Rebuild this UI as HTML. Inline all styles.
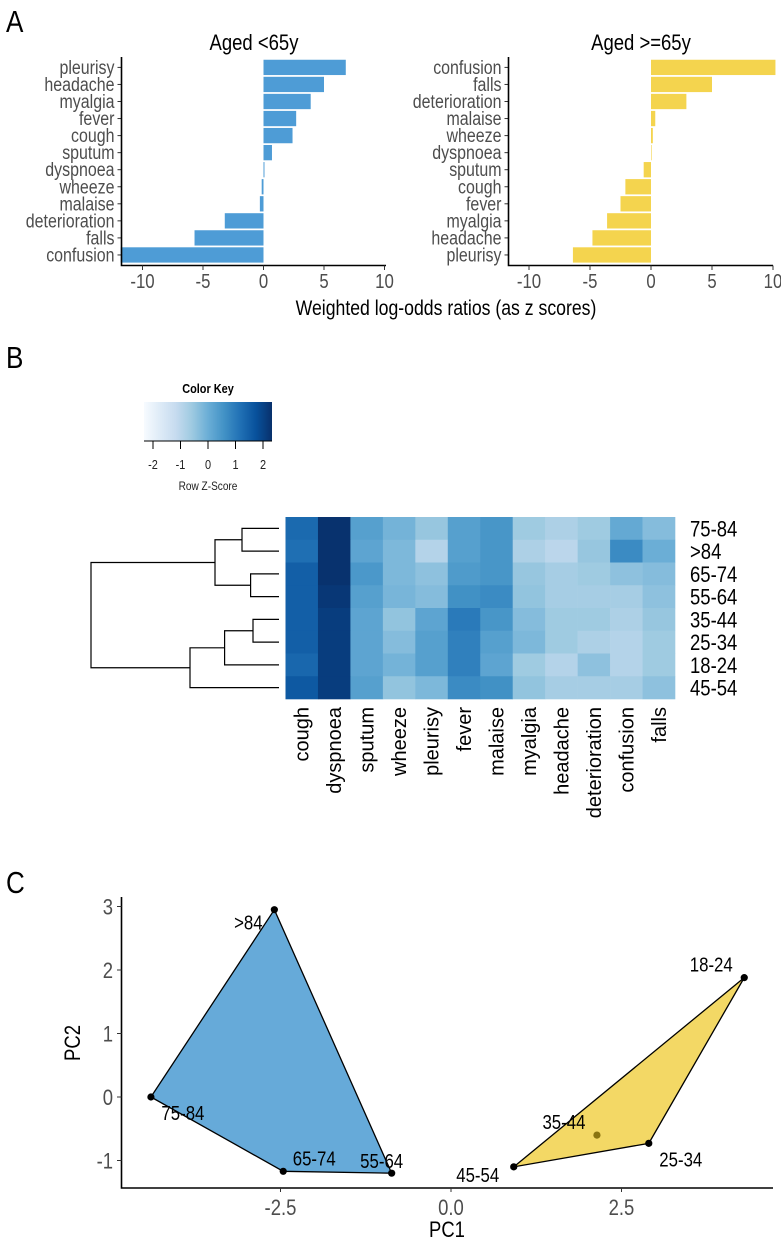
<!DOCTYPE html>
<html><head><meta charset="utf-8"><style>
html,body{margin:0;padding:0;background:#fff;}
svg{display:block;}
.n{font-family:"Liberation Sans Narrow","Liberation Sans",sans-serif;}
.r{font-family:"Liberation Sans",sans-serif;}
</style></head><body>
<svg id="fig" width="781" height="1240" viewBox="0 0 781 1240" xmlns="http://www.w3.org/2000/svg">
<text class="n" x="6" y="32" font-size="31">A</text>
<text class="n" x="6" y="368" font-size="31">B</text>
<text class="n" x="6" y="893" font-size="31">C</text>
<text class="n" x="254" y="50" font-size="22" text-anchor="middle">Aged &lt;65y</text>
<text class="n" x="641" y="50" font-size="22" text-anchor="middle">Aged &gt;=65y</text>
<text class="n" x="446" y="315" font-size="21" text-anchor="middle">Weighted log-odds ratios (as z scores)</text>
<g id="pa"></g><g id="pb"></g><g id="pc"></g>
</svg>
<script>
// ---------- Panel A data ----------
const leftCats = ["pleurisy","headache","myalgia","fever","cough","sputum","dyspnoea","wheeze","malaise","deterioration","falls","confusion"];
const leftVals = [6.8,5.0,3.9,2.7,2.4,0.7,0.08,-0.15,-0.3,-3.2,-5.7,-11.8];
const rightCats = ["confusion","falls","deterioration","malaise","wheeze","dyspnoea","sputum","cough","fever","myalgia","headache","pleurisy"];
const rightVals = [10.2,5.0,2.9,0.35,0.15,0.05,-0.6,-2.1,-2.5,-3.6,-4.8,-6.4];
const aTicks = [-10,-5,0,5,10];
// ---------- Panel B data ----------
const hmRows = ["75-84",">84","65-74","55-64","35-44","25-34","18-24","45-54"];
const hmCols = ["cough","dyspnoea","sputum","wheeze","pleurisy","fever","malaise","myalgia","headache","deterioration","confusion","falls"];
const hm7584 = [1.3,2.3,0.3,-0.1,-0.5,0.3,0.5,-0.6,-0.8,-0.6,0.1,-0.3];
const hm84 = [1.2,2.3,0.2,-0.2,-0.9,0.3,0.5,-0.8,-1.0,-0.5,0.7,0.0];
const hm6574 = [1.5,2.3,0.45,-0.2,-0.4,0.4,0.5,-0.5,-0.7,-0.6,-0.4,-0.3];
const hm5564 = [1.5,2.2,0.3,-0.15,-0.3,0.6,0.7,-0.45,-0.7,-0.7,-0.7,-0.4];
const hm3544 = [1.5,2.1,0.2,-0.45,0.2,1.0,0.5,-0.3,-0.6,-0.6,-0.8,-0.5];
const hm2534 = [1.5,2.1,0.2,-0.3,0.3,0.9,0.3,-0.2,-0.6,-0.8,-0.9,-0.6];
const hm1824 = [1.35,2.1,0.2,-0.1,0.3,0.9,0.2,-0.6,-0.9,-0.4,-0.9,-0.6];
const hm4554 = [1.6,2.1,0.3,-0.45,-0.2,0.7,0.6,-0.45,-0.7,-0.7,-0.7,-0.4];
const keyTicks = [-2,-1,0,1,2];
// ---------- Panel C data ----------
const pcLabels = [">84","75-84","65-74","55-64","18-24","35-44","25-34","45-54"];
const pcGroup = [0,0,0,0,1,1,1,1];
const pc1 = [-2.59,-4.4,-2.46,-0.87,4.3,2.14,2.9,0.92];
const pc2 = [2.95,0.0,-1.17,-1.2,1.88,-0.6,-0.73,-1.1];
const pc1Ticks = [-2.5,0.0,2.5];
const pc2Ticks = [-1,0,1,2,3];

const NS="http://www.w3.org/2000/svg";
function mk(tag,attrs,parent,txt){const e=document.createElementNS(NS,tag);for(const k in attrs)e.setAttribute(k,attrs[k]);if(txt!==undefined)e.textContent=txt;parent.appendChild(e);return e;}

// ---------- Panel A ----------
const pa=document.getElementById('pa');
function barPanel(cats,vals,axX,zeroX,ppu,endX,color,side){
  const y0=67.4,pitch=17.05,bh=15.3;
  const xs=v=>zeroX+v*ppu;
  cats.forEach((c,i)=>{
    const yc=y0+i*pitch,v=vals[i];
    const x1=Math.min(xs(0),xs(v)),w=Math.max(Math.abs(xs(v)-xs(0)),0.6);
    const r=mk('rect',{x:x1,y:yc-bh/2,width:w,height:bh,fill:color},pa);
    
    
    const t=mk('text',{x:axX-7,y:yc+6.5,'font-size':19,'text-anchor':'end',fill:'#4d4d4d',class:'n'},pa,c);
    
    
    mk('line',{x1:axX-4,x2:axX,y1:yc,y2:yc,stroke:'#333','stroke-width':1},pa);
  });
  const ax=mk('path',{d:`M${axX},57V265.5H${endX}`,fill:'none',stroke:'#000','stroke-width':1.6},pa);
  
  
  aTicks.forEach(t=>{
    mk('line',{x1:xs(t),x2:xs(t),y1:265.5,y2:270,stroke:'#333'},pa);
    const tl=mk('text',{x:xs(t),y:288,'font-size':20,'text-anchor':'middle',fill:'#4d4d4d',class:'n'},pa,String(t));
    
    
  });
}
barPanel(leftCats,leftVals,121.5,263.5,12.1,386,'#4e9cd6','left');
barPanel(rightCats,rightVals,508.5,651,12.2,773,'#f4d44e','right');

// ---------- Panel B ----------
const pb=document.getElementById('pb');
const blues=["#f7fbff","#deebf7","#c6dbef","#9ecae1","#6baed6","#4292c6","#2171b5","#08519c","#08306b"];
function hx(h){return [1,3,5].map(i=>parseInt(h.substr(i,2),16));}
function cmap(v){let t=(v+2.33)/4.66;t=Math.max(0,Math.min(1,t))*(blues.length-1);const i=Math.min(Math.floor(t),blues.length-2),f=t-i;const a=hx(blues[i]),b=hx(blues[i+1]);return 'rgb('+a.map((x,k)=>Math.round(x+(b[k]-x)*f)).join(',')+')';}
const gk=mk('g',{},pb);
const defs=mk('defs',{},gk);const lg=mk('linearGradient',{id:'kg',x1:0,x2:1,y1:0,y2:0},defs);
blues.forEach((c,i)=>mk('stop',{offset:i/(blues.length-1),'stop-color':c},lg));
mk('rect',{x:144,y:402,width:128,height:39,fill:'url(#kg)'},gk);
mk('line',{x1:144,x2:272,y1:441,y2:441,stroke:'#000'},gk);
mk('text',{x:208,y:393,'font-size':13,'font-weight':'bold','text-anchor':'middle',class:'n'},gk,'Color Key');
const kx=v=>208+v*27.5;
keyTicks.forEach(t=>{mk('line',{x1:kx(t),x2:kx(t),y1:441,y2:449,stroke:'#000'},gk);
  mk('text',{x:kx(t),y:469,'font-size':13,'text-anchor':'middle',fill:'#222',class:'n'},gk,String(t));});
mk('text',{x:208,y:490,'font-size':12,'text-anchor':'middle',fill:'#222',class:'n'},gk,'Row Z-Score');
const hmData=[hm7584,hm84,hm6574,hm5564,hm3544,hm2534,hm1824,hm4554];
const hX0=285.5,hY0=517,cw=(675-285.5)/hmCols.length,ch=(699-517)/hmRows.length;
hmRows.forEach((r,i)=>{
  hmCols.forEach((c,j)=>{
    const cell=mk('rect',{x:hX0+j*cw,y:hY0+i*ch,width:cw+0.3,height:ch+0.3,fill:cmap(hmData[i][j])},pb);
    
    
  });
  const t=mk('text',{x:690,y:hY0+(i+0.5)*ch+8,'font-size':22,class:'n'},pb,r);
  
  
});
hmCols.forEach((c,j)=>{
  const cx=hX0+(j+0.5)*cw+7;
  const t=mk('text',{x:0,y:0,'font-size':20,'text-anchor':'end',class:'r',transform:`translate(${cx},707) rotate(-90)`},pb,c);
  
  
});
const ry=i=>hY0+(i+0.5)*ch;
const dg=mk('g',{fill:'none',stroke:'#000','stroke-width':1.2},pb);

function node(x,ya,yb,xa,xb){mk('path',{d:`M${xa},${ya}H${x}V${yb}H${xb}`},dg);return (ya+yb)/2;}
const n1=node(242,ry(0),ry(1),279,279);
const n2=node(250.6,ry(2),ry(3),279,279);
const n3=node(215,n1,n2,242,250.6);
const n4=node(253,ry(4),ry(5),279,279);
const n5=node(224.6,n4,ry(6),253,279);
const n6=node(190,n5,ry(7),224.6,279);
node(91,n3,n6,215,190);

// ---------- Panel C ----------
const pc=document.getElementById('pc');
const X=v=>451+v*68.2, Y=v=>1097-v*63.5;
const offs=[[-26,13],[32,16],[31,-13],[-10,-12],[-33,-13],[-33,-13],[32,16],[-36,8]];
function hull(idx){const p=idx.map(i=>[X(pc1[i]),Y(pc2[i]),i]).sort((a,b)=>a[0]-b[0]||a[1]-b[1]);
  const cr=(o,a,b)=>(a[0]-o[0])*(b[1]-o[1])-(a[1]-o[1])*(b[0]-o[0]);
  const lo=[],up=[];for(const q of p){while(lo.length>=2&&cr(lo[lo.length-2],lo[lo.length-1],q)<=0)lo.pop();lo.push(q);}
  for(const q of p.slice().reverse()){while(up.length>=2&&cr(up[up.length-2],up[up.length-1],q)<=0)up.pop();up.push(q);}
  return lo.slice(0,-1).concat(up.slice(0,-1));}
const fills=['#66aad9','#f3d865'];
const inner=['#2c5e80','#8a7410'];
[0,1].forEach(g=>{
  const idx=pcGroup.map((v,i)=>v===g?i:-1).filter(i=>i>=0);
  const h=hull(idx);
  const pg=mk('polygon',{points:h.map(p=>p[0]+','+p[1]).join(' '),fill:fills[g],stroke:'#000','stroke-width':1.3},pc);
  
  
  const hs=new Set(h.map(p=>p[2]));
  idx.forEach(i=>{const c=mk('circle',{cx:X(pc1[i]),cy:Y(pc2[i]),r:3.6,fill:hs.has(i)?'#000':inner[g]},pc);
    
    });
});
pcLabels.forEach((l,i)=>{
  const t=mk('text',{x:X(pc1[i])+offs[i][0],y:Y(pc2[i])+offs[i][1]+7,'font-size':20,'text-anchor':'middle',class:'n'},pc,l);
  
  
});
const axc=mk('path',{d:'M121.5,897V1188H773',fill:'none',stroke:'#000','stroke-width':1.6},pc);

pc1Ticks.forEach(t=>{mk('line',{x1:X(t),x2:X(t),y1:1188,y2:1192,stroke:'#333'},pc);
  const tl=mk('text',{x:X(t),y:1215,'font-size':22,'text-anchor':'middle',fill:'#4d4d4d',class:'n'},pc,t.toFixed(1));
  });
pc2Ticks.forEach(t=>{mk('line',{x1:117,x2:121.5,y1:Y(t),y2:Y(t),stroke:'#333'},pc);
  const tl=mk('text',{x:113,y:Y(t)+8,'font-size':22,'text-anchor':'end',fill:'#4d4d4d',class:'n'},pc,String(t));
  });
const xt=mk('text',{x:447,y:1237,'font-size':22,'text-anchor':'middle',class:'n'},pc,'PC1');

const yt=mk('text',{x:0,y:0,'font-size':22,'text-anchor':'middle',class:'n',transform:'translate(80,1043) rotate(-90)'},pc,'PC2');


// compress the "narrow" text to mimic the condensed reference font
document.querySelectorAll('text.n').forEach(t=>{
  try{const w=t.getComputedTextLength();if(w>0){t.setAttribute('textLength',(w*0.84).toFixed(1));t.setAttribute('lengthAdjust','spacingAndGlyphs');}}catch(e){}
});
</script>
</body></html>
